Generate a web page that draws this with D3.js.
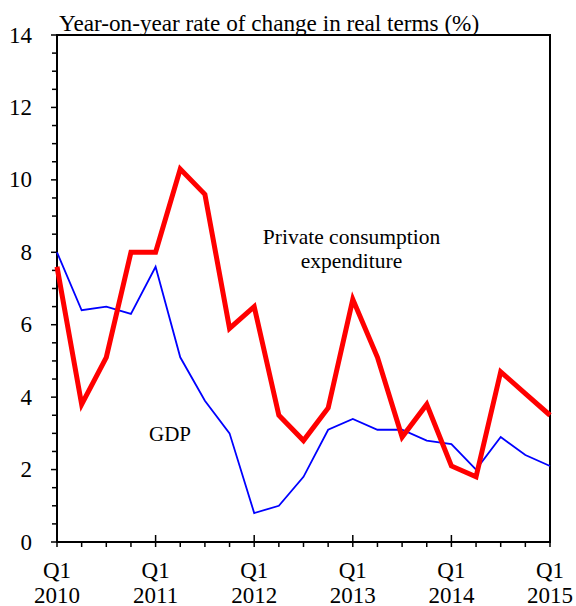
<!DOCTYPE html>
<html>
<head>
<meta charset="utf-8">
<script src="https://cdn.jsdelivr.net/npm/d3@7"></script>
<style>
  body { margin: 0; background: #fff; }
</style>
</head>
<body>
<svg id="chart" width="576" height="606"></svg>
<script>
// quarters Q1 2010 .. Q1 2015
let years = ["2010", "2011", "2012", "2013", "2014", "2015"];
let pce = [7.6, 3.8, 5.1, 8.0, 8.0, 10.3, 9.6, 5.9, 6.5, 3.5, 2.8, 3.7, 6.7, 5.1, 2.9, 3.8, 2.1, 1.8, 4.7, 4.1, 3.5];
let gdp = [8.0, 6.4, 6.5, 6.3, 7.6, 5.1, 3.9, 3.0, 0.8, 1.0, 1.8, 3.1, 3.4, 3.1, 3.1, 2.8, 2.7, 2.0, 2.9, 2.4, 2.1];
let yTicks = [0, 2, 4, 6, 8, 10, 12, 14];

let plotLeft = 57, plotRight = 550, plotTop = 35, plotBottom = 542;
let serif = "'Liberation Serif', 'Times New Roman', Times, serif";

const svg = d3.select("#chart")
  .style("font-family", serif);

const x = d3.scaleLinear().domain([0, 20]).range([plotLeft, plotRight]);
const y = d3.scaleLinear().domain([0, 14]).range([plotBottom, plotTop]);

// frame
svg.append("rect")
  .attr("x", plotLeft).attr("y", plotTop)
  .attr("width", plotRight - plotLeft).attr("height", plotBottom - plotTop)
  .style("fill", "none").style("stroke", "black").style("stroke-width", "2px");

// y axis: major ticks with labels, minor every 0.5
const yMinor = d3.range(0, 14.01, 0.5);
svg.append("g")
  .selectAll("line")
  .data(yMinor)
  .enter()
  .append("line")
  .attr("x1", function (d) { return d % 2 === 0 ? plotLeft - 6 : plotLeft - 5; })
  .attr("x2", plotLeft)
  .attr("y1", function (d) { return y(d); })
  .attr("y2", function (d) { return y(d); })
  .style("stroke", "black").style("stroke-width", "1.5px");

svg.append("g")
  .selectAll("text")
  .data(yTicks)
  .enter()
  .append("text")
  .attr("x", 32)
  .attr("y", function (d) { return y(d); })
  .attr("dy", "0.33em")
  .attr("text-anchor", "end")
  .style("font-family", serif)
  .style("font-size", "23px")
  .text(function (d) { return d; });

// x axis ticks: quarters
const quarters = d3.range(0, 21);
svg.append("g")
  .selectAll("line")
  .data(quarters)
  .enter()
  .append("line")
  .attr("x1", function (d) { return x(d); })
  .attr("x2", function (d) { return x(d); })
  .attr("y1", function (d) { return d % 4 === 0 ? plotBottom - 7 : plotBottom; })
  .attr("y2", plotBottom + 5)
  .style("stroke", "black").style("stroke-width", "1.5px");

const xLab = svg.append("g")
  .selectAll("g")
  .data(years)
  .enter()
  .append("g")
  .attr("transform", function (d, i) { return "translate(" + x(i * 4) + ",0)"; });
xLab.append("text")
  .attr("y", 578)
  .attr("text-anchor", "middle")
  .style("font-family", serif)
  .style("font-size", "23px")
  .text("Q1");
xLab.append("text")
  .attr("y", 603)
  .attr("text-anchor", "middle")
  .style("font-family", serif)
  .style("font-size", "23px")
  .text(function (d) { return d; });

// lines
const line = d3.line()
  .x(function (d, i) { return x(i); })
  .y(function (d) { return y(d); });

svg.append("path")
  .datum(gdp)
  .attr("d", line)
  .style("fill", "none").style("stroke", "#0000ff").style("stroke-width", "1.8px");

svg.append("path")
  .datum(pce)
  .attr("d", line)
  .style("fill", "none").style("stroke", "#ff0000").style("stroke-width", "5px")
  .style("stroke-linejoin", "miter");

// annotations
function note(tx, ty, anchor, size, str) {
  svg.append("text")
    .attr("x", tx).attr("y", ty)
    .attr("text-anchor", anchor)
    .style("font-family", serif)
    .style("font-size", size)
    .text(str);
}
note(59, 31, "start", "23.2px", "Year-on-year rate of change in real terms (%)");
note(351.5, 244, "middle", "21.5px", "Private consumption");
note(351.5, 268, "middle", "21.5px", "expenditure");
note(149, 441, "start", "21px", "GDP");
</script>
</body>
</html>
